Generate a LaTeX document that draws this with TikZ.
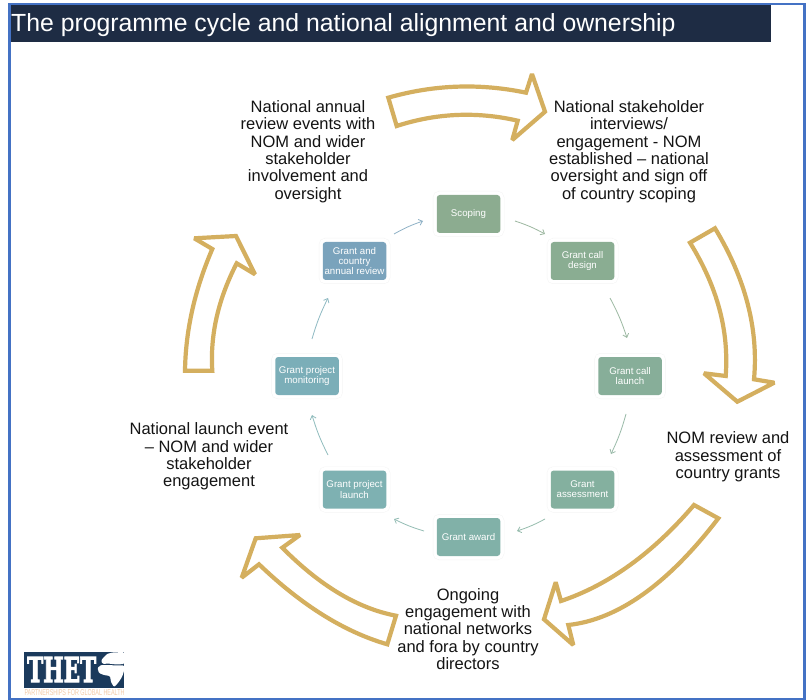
\documentclass[tikz,border=0pt]{standalone}
\usepackage{fontspec}
\usepackage{graphicx}
\setmainfont{Liberation Sans}
\newfontfamily\logofont[FakeBold=3]{DejaVu Serif}
\usetikzlibrary{calc,arrows.meta}
\definecolor{frameblue}{HTML}{4472C4}
\definecolor{titlenavy}{HTML}{1E2C44}
\definecolor{gold}{HTML}{D4AF5F}
\definecolor{logonavy}{HTML}{1B3A5C}
\definecolor{peach}{HTML}{F3CBA8}
\definecolor{cA}{HTML}{8CAC90}
\definecolor{cB}{HTML}{8AAD92}
\definecolor{cC}{HTML}{87AE99}
\definecolor{cD}{HTML}{84B09F}
\definecolor{cE}{HTML}{81B1A8}
\definecolor{cF}{HTML}{7EB1B2}
\definecolor{cG}{HTML}{7BAEB8}
\definecolor{cH}{HTML}{7AA3BC}
\tikzset{
  x=1pt,y=-1pt,
  stage/.style={rectangle,rounded corners=3pt,minimum width=63.5pt,minimum height=38pt,inner sep=0pt,
    text=white,align=center,font=\fontsize{9.7}{10.3}\selectfont,
    preaction={draw=black!4,line width=8pt},preaction={draw=white,line width=7pt},fill=#1},
  flow/.style={line width=0.8pt,draw=#1!85,-{Straight Barb[length=3.5pt,width=6pt]}},
  note/.style={align=center,inner sep=0pt,text=black!92,font=\fontsize{16.5}{17.3}\selectfont},
  bigarrow/.style={draw=gold,line width=4.2pt,line join=miter,miter limit=3,fill=white},
}
\begin{document}
\begin{tikzpicture}
\useasboundingbox (0,0) rectangle (808,700);
\fill[white] (0,0) rectangle (808,700);
% frame
\draw[frameblue,line width=2.4pt] (9.5,4.3) rectangle (804.5,699.3);
\draw[frameblue,line width=3pt] (9.5,4) -- (9.5,700);
% title
\fill[titlenavy] (11,5.5) rectangle (770.7,42.3);
\node[anchor=base west,inner sep=0pt,text=white,font=\fontsize{24.8}{26}\selectfont] (title) at (11,31.5) {The programme cycle and national alignment and ownership};

% stages
\node[stage=cA] (scoping) at (468.5,214) {Scoping};
\node[stage=cB] (design) at (582.5,261) {Grant call\\design};
\node[stage=cC] (launch) at (630,376) {Grant call\\launch};
\node[stage=cD] (assess) at (582.5,489.5) {Grant\\assessment};
\node[stage=cE] (award) at (468.5,537) {Grant award};
\node[stage=cF] (plaunch) at (354.5,489.5) {Grant project\\launch};
\node[stage=cG] (monitor) at (307,376) {Grant project\\monitoring};
\node[stage=cH] (review) at (354.5,261) {Grant and\\country\\annual review};

% connectors
\draw[flow=cA] ($(scoping)+(46.5,7)$) to[bend left=5] ($(design)+(-37.5,-27)$);
\draw[flow=cB] ($(design)+(27.5,37)$) to[bend left=5] ($(launch)+(-3,-38)$);
\draw[flow=cC] ($(launch)+(-4,38)$) to[bend left=5] ($(assess)+(28.5,-35.5)$);
\draw[flow=cD] ($(assess)+(-37.5,29.5)$) to[bend left=5] ($(award)+(48.5,-6)$);
\draw[flow=cE] ($(award)+(-44.5,-6)$) to[bend left=5] ($(plaunch)+(39.5,29.5)$);
\draw[flow=cF] ($(plaunch)+(-26.5,-34.5)$) to[bend left=5] ($(monitor)+(5,39)$);
\draw[flow=cG] ($(monitor)+(5,-37)$) to[bend left=5] ($(review)+(-26.5,37)$);
\draw[flow=cH] ($(review)+(39.5,-27)$) to[bend left=5] ($(scoping)+(-45.5,7)$);

% big arrows
\draw[bigarrow] (388.3,97.7) .. controls (433.6,84.7) and (479.5,83) .. (526,92.7) -- (532,74) -- (545,111.7) -- (512.3,140) -- (517.7,120.7) .. controls (476.7,111.3) and (436.4,113.1) .. (396.7,126) -- cycle;
\draw[bigarrow] (715,228.3) .. controls (745.6,278.9) and (758.6,329.2) .. (754,379.3) -- (774.3,382.7) -- (737.3,401.7) -- (704,373.3) -- (725.7,376) .. controls (729.1,330.4) and (717.2,286.7) .. (690,242.7) -- cycle;
\draw[bigarrow] (718.3,518.3) .. controls (667.9,584.1) and (617.9,619.6) .. (568.3,625) -- (573.3,645) -- (544,619.3) -- (555.7,582.3) -- (561,601) .. controls (608.7,585) and (653,553) .. (694,505) -- cycle;
\draw[bigarrow] (387.3,644.3) .. controls (344.3,631.9) and (301.6,605.2) .. (259,564.3) -- (241.7,577.7) -- (255.7,538.3) -- (300,535) -- (282.3,547.7) .. controls (320,585.8) and (357.9,608.5) .. (396,615.7) -- cycle;
\draw[bigarrow] (185,370.7) -- (212.3,370.7) .. controls (210,334.9) and (218.2,299.1) .. (236.7,263.3) -- (255,274.3) -- (236,236) -- (194.3,238.3) -- (212.3,249) .. controls (194.7,289.8) and (185.6,330.4) .. (185,370.7) -- cycle;

% notes
\node[note] (nreview) at (308,151.5) {National annual\\review events with\\NOM and wider\\stakeholder\\involvement and\\oversight};
\node[note] (nstake) at (629,151.5) {National stakeholder\\interviews/\\engagement - NOM\\established – national\\oversight and sign off\\of country scoping};
\node[note] (ngrants) at (728,457) {NOM review and\\assessment of\\country grants};
\node[note] (nongoing) at (468,629) {Ongoing\\engagement with\\national networks\\and fora by country\\directors};
\node[note] (nlaunch) at (209,456.5) {National launch event\\– NOM and wider\\stakeholder\\engagement};

% logo
\fill[logonavy] (24.3,652) rectangle (124,688);
\node[anchor=base west,inner sep=0pt,text=white] (thet) at (27,682) {\resizebox{69pt}{25pt}{\logofont\bfseries THET}};
\fill[white,rounded corners=1pt] (103,658) -- (107,654) -- (112,652.5) -- (124,652) -- (124,664) -- (117,664.5) -- (112,664) -- (108,663.5) -- (103,664) -- (101,661) -- cycle;
\fill[white,rounded corners=1pt] (97.5,668) -- (101,665) -- (124,665.5) -- (124,671) -- (122,677) -- (118,683) -- (114,687) -- (111,682) -- (110,676) -- (104,675) -- (99,673) -- cycle;
\node[anchor=base west,inner sep=0pt,text=peach] (tagline) at (24.3,695.5) {\resizebox{100pt}{6pt}{PARTNERSHIPS FOR GLOBAL HEALTH}};
\end{tikzpicture}
\end{document}
